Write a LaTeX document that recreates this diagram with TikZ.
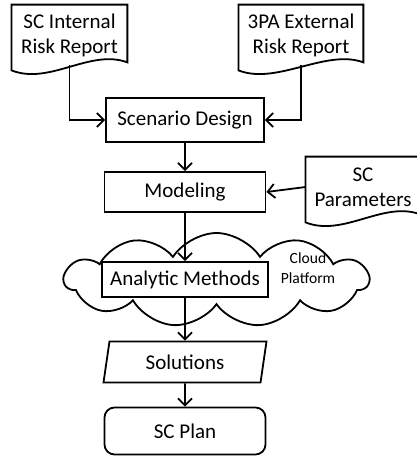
\documentclass[tikz,border=0pt]{standalone}
\usepackage{fontspec}
\setmainfont{Carlito}
\usetikzlibrary{arrows.meta,shapes.geometric,shapes.symbols}

% wavy bottom of a document node
\newcommand{\docwave}[1]{%
\draw[line width=0.9pt] (#1.north west) -- (#1.north east) -- ([yshift=1.5pt]#1.south east)
  .. controls +(-18.5pt,7pt) and +(19pt,-7.5pt) .. ([yshift=-2.5pt]#1.south west) -- cycle;}

\begin{document}
\begin{tikzpicture}[x=0.5pt,y=-0.5pt,
  box/.style={draw, line width=0.9pt, fill=white, minimum width=80pt, minimum height=21pt,
    font=\fontsize{10.5}{12.5}\selectfont},
  docnode/.style={minimum height=30pt, align=center, font=\fontsize{10.5}{12.5}\selectfont},
  arr/.style={-{Straight Barb[length=3.5pt,width=7pt]}, line width=0.9pt}]
\useasboundingbox (0,0) rectangle (417,457);
\clip (0,0) rectangle (417,457);

% documents
\node[docnode, minimum width=57.5pt] (dint) at (69.5,35) {SC Internal\\Risk Report};
\docwave{dint}
\node[docnode, minimum width=62pt] (dext) at (301,35) {3PA External\\Risk Report};
\docwave{dext}
\node[docnode, minimum width=57pt] (dpar) at (363,187) {SC\\Parameters};
\docwave{dpar}

% cloud behind the analytic box
\node[cloud, draw, line width=0.9pt, cloud puffs=11, cloud puff arc=115, aspect=3.4,
  shape border rotate=8, minimum width=152pt, minimum height=47pt] (cloud) at (216.5,280) {};
\node[align=center, font=\fontsize{7.8}{9.8}\selectfont] (cplat) at (308,268) {Cloud\\Platform};

% process steps
\node[box, minimum width=79pt, minimum height=22pt] (scen) at (185,120) {Scenario Design};
\node[box, minimum width=80.5pt, minimum height=20pt] (model) at (185,192) {Modeling};
\node[box, minimum width=83pt, minimum height=17.5pt] (anal) at (185,279.5) {Analytic Methods};
\node[box, trapezium, trapezium left angle=78, trapezium right angle=102, trapezium stretches body,
  minimum width=81.5pt, minimum height=20.5pt] (sol) at (185,362) {Solutions};
\node[box, rounded corners=5pt, minimum width=80.5pt, minimum height=23.5pt] (plan) at (185,431) {SC Plan};

% connectors
\draw[arr] (dint.south) |- (scen.west);
\draw[arr] (dext.south) |- (scen.east);
\draw[arr] (dpar.west) -- (model.east);
\draw[arr] (scen) -- (model);
\draw[arr] (model) -- (anal);
\draw[arr] (anal) -- (sol);
\draw[arr] (sol) -- (plan);

\end{tikzpicture}
\end{document}
